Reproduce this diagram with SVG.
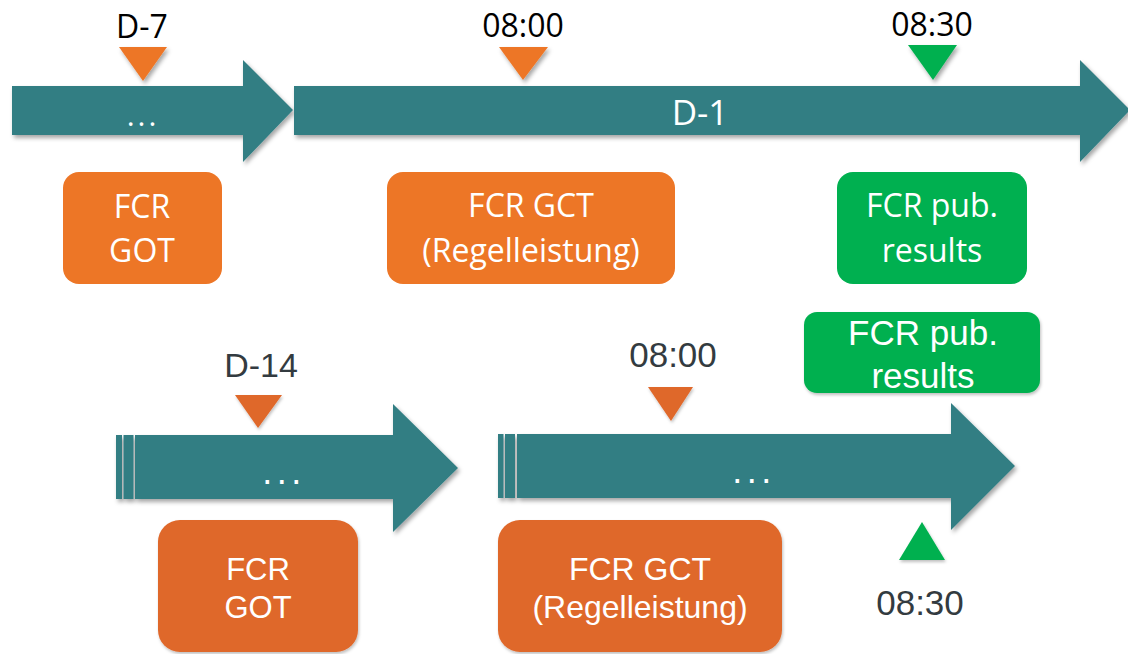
<svg xmlns="http://www.w3.org/2000/svg" width="1128" height="654" viewBox="0 0 1128 654">
<defs>
<filter id="sh" x="-10%" y="-20%" width="130%" height="160%">
<feDropShadow dx="2" dy="3" stdDeviation="2.2" flood-color="#000" flood-opacity="0.35"/>
</filter>
<filter id="shs" x="-10%" y="-10%" width="130%" height="130%">
<feDropShadow dx="1" dy="2" stdDeviation="1.5" flood-color="#000" flood-opacity="0.25"/>
</filter>
<style>
.teal{fill:#317E83}
.or1{fill:#ED7626}
.or2{fill:#DF6729}
.gr{fill:#00B050}
.t1{font-family:"Open Sans","Liberation Sans",sans-serif;text-anchor:middle}
.t2{font-family:"Liberation Sans",Arial,sans-serif;text-anchor:middle}
.w{fill:#FFFFFF}
.k{fill:#000000}
.g{fill:#333B40}
</style>
</defs>
<rect width="1128" height="654" fill="#FFFFFF"/>

<g id="arrows">
<g id="arrow-d7" filter="url(#sh)">
<polygon class="teal" points="12,86 243,86 243,60 293,110 243,162 243,135 12,135"/>
</g>
<g id="arrow-d1" filter="url(#sh)">
<polygon class="teal" points="294,86 1080,86 1080,60 1130,110 1080,162 1080,135 294,135"/>
</g>
<g id="arrow-d14" filter="url(#sh)">
<rect class="teal" x="116" y="435" width="6" height="64"/>
<rect class="teal" x="123.5" y="435" width="10" height="64"/>
<polygon class="teal" points="135,435 393,435 393,404 458,468 393,532 393,499 135,499"/>
</g>
<g id="arrow-d" filter="url(#sh)">
<rect class="teal" x="498" y="434" width="5.5" height="64"/>
<rect class="teal" x="505" y="434" width="10" height="64"/>
<polygon class="teal" points="517,434 951,434 951,403 1015,466 951,530 951,498 517,498"/>
</g>
<text class="t1 w" x="143" y="126" font-size="30" letter-spacing="3">...</text>
<text class="t1 w" x="700" y="125" font-size="35">D-1</text>
<text class="t2 w" x="284" y="484" font-size="36" letter-spacing="4.5">...</text>
<text class="t2 w" x="754" y="483" font-size="36" letter-spacing="4.5">...</text>
</g>

<g id="marker-d7">
<text class="t1 k" x="142" y="38" font-size="32">D-7</text>
<polygon class="or1" points="119,47 167,47 143,81" filter="url(#sh)"/>
</g>
<g id="marker-0800-top">
<text class="t1 k" x="523" y="37" font-size="32">08:00</text>
<polygon class="or1" points="499,47 548,47 523,80" filter="url(#sh)"/>
</g>
<g id="marker-0830-top">
<text class="t1 k" x="932" y="36" font-size="32">08:30</text>
<polygon class="gr" points="908,45 957,45 933,80" filter="url(#sh)"/>
</g>

<g id="box-got-top">
<rect class="or1" x="63" y="172" width="159" height="112" rx="16"/>
<text class="t1 w" x="142" y="218" font-size="32">FCR</text>
<text class="t1 w" x="142" y="262" font-size="32">GOT</text>
</g>
<g id="box-gct-top">
<rect class="or1" x="387" y="172" width="288" height="112" rx="16"/>
<text class="t1 w" x="531" y="217" font-size="32">FCR GCT</text>
<text class="t1 w" x="531" y="262" font-size="32">(Regelleistung)</text>
</g>
<g id="box-pub-top">
<rect class="gr" x="837" y="172" width="190" height="112" rx="16"/>
<text class="t1 w" x="932" y="217" font-size="32">FCR pub.</text>
<text class="t1 w" x="932" y="262" font-size="32">results</text>
</g>

<g id="marker-d14">
<text class="t2 g" x="261" y="377" font-size="34">D-14</text>
<polygon class="or2" points="235,395 282,395 258,428" filter="url(#shs)"/>
</g>
<g id="marker-0800-bottom">
<text class="t2 g" x="673" y="367" font-size="35">08:00</text>
<polygon class="or2" points="648,387 693,387 671,421" filter="url(#shs)"/>
</g>
<g id="marker-0830-bottom">
<polygon class="gr" points="899,560 945,560 922,522" filter="url(#shs)"/>
<text class="t2 g" x="920" y="615" font-size="35">08:30</text>
</g>

<g id="box-pub-bottom">
<rect class="gr" x="804" y="312" width="236" height="81" rx="13" filter="url(#shs)"/>
<text class="t2 w" x="923" y="345" font-size="35">FCR pub.</text>
<text class="t2 w" x="923" y="388" font-size="35">results</text>
</g>
<g id="box-got-bottom">
<rect class="or2" x="158" y="520" width="200" height="132" rx="22" filter="url(#shs)"/>
<text class="t2 w" x="258" y="580" font-size="31">FCR</text>
<text class="t2 w" x="258" y="618" font-size="31">GOT</text>
</g>
<g id="box-gct-bottom">
<rect class="or2" x="498" y="520" width="284" height="132" rx="22" filter="url(#shs)"/>
<text class="t2 w" x="640" y="580" font-size="32">FCR GCT</text>
<text class="t2 w" x="640" y="618" font-size="32">(Regelleistung)</text>
</g>
</svg>
